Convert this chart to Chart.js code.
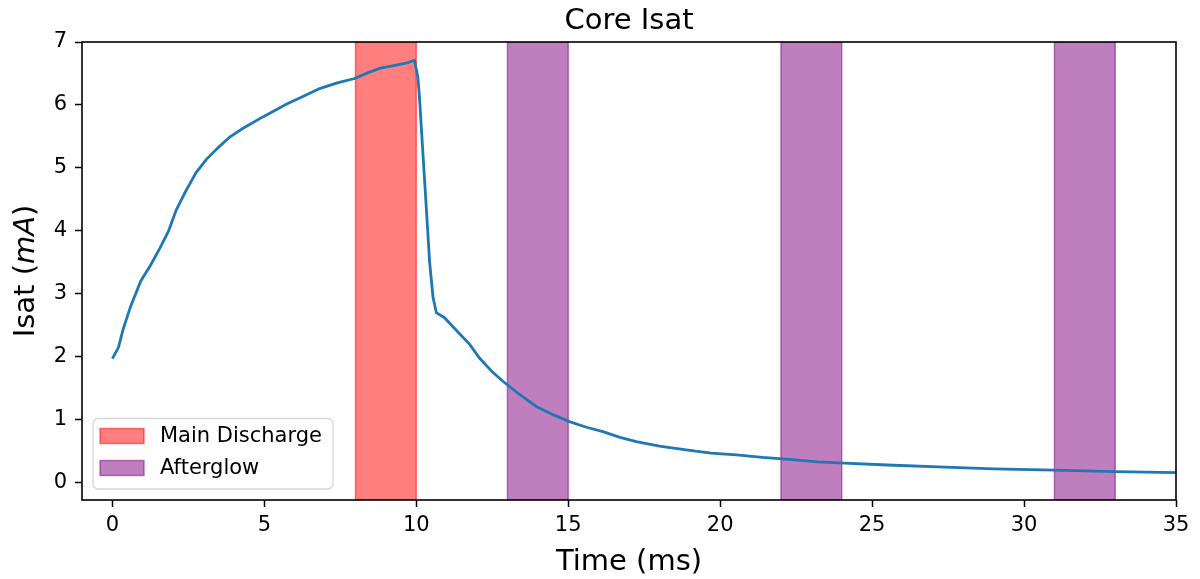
<!DOCTYPE html>
<html>
<head>
<meta charset="utf-8">
<script src="https://cdn.jsdelivr.net/npm/chart.js@4.4.1/dist/chart.umd.min.js"></script>
<style>
  html, body { margin: 0; padding: 0; background: #ffffff; }
  #wrap { width: 1200px; height: 579px; }
</style>
</head>
<body>
<div id="wrap"><canvas id="c" width="1200" height="579"></canvas></div>
<script>
// ---- data ----
const timeMs = [0, 0.2, 0.35, 0.6, 0.93, 1.25, 1.56, 1.85, 2.1, 2.4, 2.76, 3.1, 3.5, 3.86, 4.3, 4.95, 5.3, 5.72, 6.2, 6.82,
  7.4, 7.97, 8.4, 8.79, 9.3, 9.7, 9.94, 10.05, 10.1, 10.27, 10.44, 10.55, 10.66, 10.93, 11.3, 11.75, 12.08, 12.5, 12.85, 13.4,
  13.95, 14.5, 15.04, 15.6, 16.14, 16.7, 17.24, 18, 18.88, 19.7, 20.53, 21.4, 22.28, 23.2, 24.1, 25.5, 27.4, 29, 31, 33, 35];
const isatMA = [1.97, 2.15, 2.43, 2.8, 3.2, 3.45, 3.72, 4.0, 4.33, 4.62, 4.93, 5.14, 5.33, 5.49, 5.63, 5.81, 5.9, 6.01, 6.12, 6.26,
  6.35, 6.42, 6.51, 6.58, 6.63, 6.67, 6.71, 6.45, 6.16, 4.83, 3.5, 2.95, 2.7, 2.62, 2.43, 2.2, 1.98, 1.76, 1.61, 1.4,
  1.21, 1.08, 0.97, 0.88, 0.81, 0.72, 0.65, 0.58, 0.52, 0.47, 0.44, 0.4, 0.37, 0.33, 0.31, 0.28, 0.245, 0.22, 0.2, 0.175, 0.16];
const xTickValues = [0, 5, 10, 15, 20, 25, 30, 35];
const yTickValues = [0, 1, 2, 3, 4, 5, 6, 7];
const mainDischargeSpans = [[8, 10]];
const afterglowSpans = [[13, 15], [22, 24], [31, 33]];
const legendLabels = ['Main Discharge', 'Afterglow'];
const chartTitle = 'Core Isat';
const xTitle = 'Time (ms)';

const FONT = '"DejaVu Sans", "Liberation Sans", sans-serif';
const RED_FILL = 'rgba(255,0,0,0.5)';
const PURPLE_FILL = 'rgba(128,0,128,0.5)';

const spanPlugin = {
  id: 'spans',
  beforeDatasetsDraw(chart) {
    const { ctx, chartArea: a, scales: { x } } = chart;
    ctx.save();
    ctx.beginPath();
    ctx.rect(a.left, a.top, a.right - a.left, a.bottom - a.top);
    ctx.clip();
    const draw = (spans, col) => {
      spans.forEach(([s, e]) => {
        const x1 = x.getPixelForValue(s), x2 = x.getPixelForValue(e);
        ctx.fillStyle = col;
        ctx.fillRect(x1, a.top, x2 - x1, a.bottom - a.top);
        ctx.strokeStyle = col;
        ctx.lineWidth = 1.5;
        ctx.strokeRect(x1, a.top, x2 - x1, a.bottom - a.top);
      });
    };
    draw(mainDischargeSpans, RED_FILL);
    draw(afterglowSpans, PURPLE_FILL);
    ctx.restore();
  },
  afterDatasetsDraw(chart) {
    const { ctx, chartArea: a } = chart;
    ctx.save();
    // frame
    ctx.strokeStyle = '#000';
    ctx.lineWidth = 1.6;
    ctx.strokeRect(a.left, a.top, a.right - a.left, a.bottom - a.top);
    // legend
    const lx = 93, ly = 418.5, lw = 240, lh = 70.5, r = 5;
    ctx.beginPath();
    ctx.moveTo(lx + r, ly);
    ctx.arcTo(lx + lw, ly, lx + lw, ly + lh, r);
    ctx.arcTo(lx + lw, ly + lh, lx, ly + lh, r);
    ctx.arcTo(lx, ly + lh, lx, ly, r);
    ctx.arcTo(lx, ly, lx + lw, ly, r);
    ctx.closePath();
    ctx.fillStyle = 'rgba(255,255,255,0.8)';
    ctx.fill();
    ctx.strokeStyle = '#d6d6d6';
    ctx.lineWidth = 1.3;
    ctx.stroke();
    const items = [[legendLabels[0], RED_FILL, 428.5], [legendLabels[1], PURPLE_FILL, 460.5]];
    ctx.font = '21px ' + FONT;
    ctx.textBaseline = 'middle';
    ctx.textAlign = 'left';
    items.forEach(([t, col, y]) => {
      ctx.fillStyle = col;
      ctx.fillRect(100, y, 44, 15);
      ctx.strokeStyle = col;
      ctx.lineWidth = 1.5;
      ctx.strokeRect(100, y, 44, 15);
      ctx.fillStyle = '#000';
      ctx.fillText(t, 160, y + 8);
    });
    // title
    const cx = (a.left + a.right) / 2;
    ctx.fillStyle = '#000';
    ctx.textAlign = 'center';
    ctx.textBaseline = 'alphabetic';
    ctx.font = '29px ' + FONT;
    ctx.fillText(chartTitle, cx, 28.5);
    // x title
    ctx.fillText(xTitle, cx, 570);
    // y title with italic mA
    const cy = (a.top + a.bottom) / 2;
    ctx.translate(33.5, cy);
    ctx.rotate(-Math.PI / 2);
    const parts = [['Isat (', '29px ' + FONT], ['mA', 'italic 29px ' + FONT], [')', '29px ' + FONT]];
    let total = 0;
    parts.forEach(([t, f]) => { ctx.font = f; total += ctx.measureText(t).width; });
    let px = -total / 2;
    ctx.textAlign = 'left';
    parts.forEach(([t, f]) => { ctx.font = f; ctx.fillText(t, px, 0); px += ctx.measureText(t).width; });
    ctx.restore();
  }
};

const points = timeMs.map((t, i) => ({ x: t, y: isatMA[i] }));

new Chart(document.getElementById('c'), {
  type: 'line',
  data: {
    datasets: [{
      label: 'Core Isat',
      data: points,
      borderColor: '#1f77b4',
      borderWidth: 2.8,
      pointRadius: 0,
      tension: 0,
      fill: false
    }]
  },
  options: {
    responsive: false,
    animation: false,
    devicePixelRatio: 1,
    layout: { padding: { left: 0, right: 24, top: 42, bottom: 0 } },
    plugins: { legend: { display: false }, title: { display: false }, tooltip: { enabled: false } },
    scales: {
      x: {
        type: 'linear',
        min: -1,
        max: 35,
        afterBuildTicks: (s) => { s.ticks = xTickValues.map(v => ({ value: v })); },
        afterFit: (s) => { s.height = 79; },
        grid: { display: true, drawOnChartArea: false, drawTicks: true, tickLength: 7, tickColor: '#000', tickWidth: 1.5 },
        border: { display: false },
        ticks: { autoSkip: false, maxRotation: 0, padding: 6, color: '#000', font: { family: FONT, size: 21 } }
      },
      y: {
        type: 'linear',
        min: -0.276,
        max: 7,
        afterBuildTicks: (s) => { s.ticks = yTickValues.map(v => ({ value: v })); },
        afterFit: (s) => { s.width = 82; },
        grid: { display: true, drawOnChartArea: false, drawTicks: true, tickLength: 7, tickColor: '#000', tickWidth: 1.5 },
        border: { display: false },
        ticks: { autoSkip: false, padding: 8, color: '#000', font: { family: FONT, size: 21 } }
      }
    }
  },
  plugins: [spanPlugin]
});
</script>
</body>
</html>
